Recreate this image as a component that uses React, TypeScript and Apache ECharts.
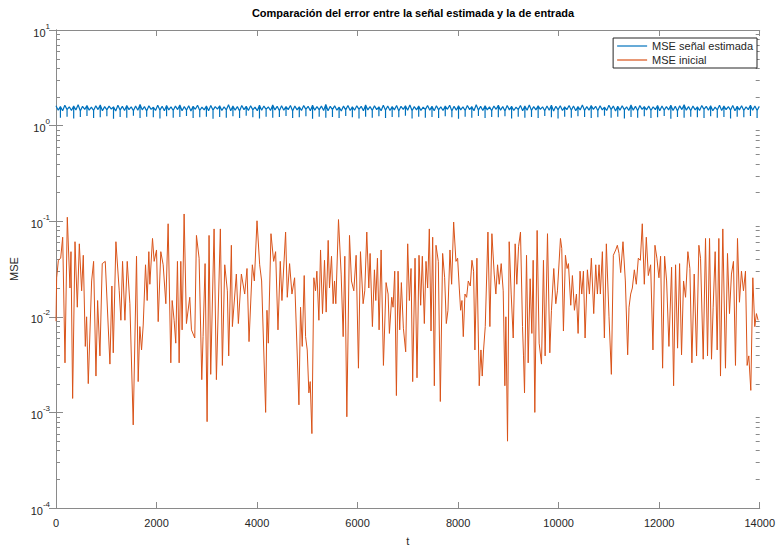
import React, { useEffect, useRef } from "react";
import * as echarts from "echarts";

const FONT = "'Liberation Sans', Arial, Helvetica, sans-serif";
const TITLE = "Comparación del error entre la señal estimada y la de entrada";
const SERIES_NAMES = ["MSE señal estimada", "MSE inicial"];
const X_MIN = 0;
const X_MAX = 14000;
const X_STEP = 2000;
const Y_MIN = 1e-4;
const Y_MAX = 10;

// estimated-signal MSE: base samples every BLUE_DT in t, with a short downward dip every SPIKE_EVERY samples
const BLUE_DT = 44;
const SPIKE_EVERY = 3;
const mseEstimadaBase: number[] = [
  1.61,1.45,1.58,1.43,1.63,1.47,1.57,1.44,1.60,1.46,1.65,1.42,1.59,1.48,1.62,1.45,
  1.56,1.44,1.61,1.47,1.64,1.43,1.58,1.46,1.60,1.49,1.57,1.42,1.63,1.45,1.59,1.44,
  1.62,1.47,1.57,1.43,1.60,1.45,1.66,1.46,1.58,1.42,1.61,1.48,1.56,1.44,1.63,1.45,
  1.59,1.43,1.62,1.46,1.57,1.44,1.60,1.47,1.64,1.43,1.58,1.45,1.61,1.42,1.59,1.48,
  1.63,1.44,1.56,1.46,1.60,1.43,1.62,1.45,1.58,1.49,1.61,1.44,1.57,1.46,1.65,1.43,
  1.60,1.45,1.58,1.42,1.62,1.47,1.59,1.44,1.61,1.46,1.56,1.43,1.63,1.45,1.60,1.48,
  1.57,1.44,1.64,1.46,1.59,1.43,1.61,1.45,1.58,1.47,1.62,1.42,1.60,1.46,1.57,1.44,
  1.62,1.48,1.59,1.43,1.63,1.45,1.58,1.46,1.60,1.44,1.66,1.43,1.59,1.47,1.61,1.45,
  1.56,1.42,1.60,1.46,1.62,1.44,1.57,1.45,1.61,1.48,1.59,1.43,1.64,1.46,1.58,1.44,
  1.61,1.47,1.57,1.43,1.63,1.45,1.60,1.44,1.58,1.46,1.62,1.42,1.59,1.48,1.61,1.45,
  1.64,1.43,1.58,1.46,1.60,1.44,1.56,1.47,1.62,1.45,1.59,1.43,1.61,1.46,1.57,1.44,
  1.60,1.48,1.63,1.42,1.59,1.45,1.61,1.46,1.57,1.44,1.62,1.47,1.58,1.43,1.65,1.45,
  1.59,1.44,1.61,1.46,1.57,1.43,1.60,1.48,1.63,1.45,1.58,1.42,1.62,1.46,1.59,1.44,
  1.56,1.47,1.62,1.43,1.60,1.45,1.64,1.44,1.58,1.46,1.61,1.48,1.57,1.43,1.60,1.45,
  1.63,1.42,1.59,1.46,1.61,1.44,1.57,1.47,1.62,1.45,1.60,1.43,1.58,1.46,1.64,1.44,
  1.58,1.45,1.62,1.48,1.59,1.43,1.61,1.46,1.56,1.44,1.63,1.47,1.60,1.42,1.59,1.45,
  1.61,1.46,1.57,1.44,1.64,1.45,1.59,1.43,1.62,1.48,1.58,1.46,1.60,1.44,1.57,1.47,
  1.62,1.43,1.60,1.45,1.58,1.46,1.63,1.44,1.59,1.42,1.61,1.47,1.65,1.45,1.58,1.43,
  1.60,1.46,1.57,1.44,1.62,1.48,1.59,1.45,1.61,1.43,1.56,1.46,1.63,1.44,1.60,1.47,
  1.58,1.45,1.62,1.43,1.59,1.46,1.61,1.44,1.57,1.47,1.63,1.45,1.60,1.44,1.59,
];
const mseEstimadaDips: number[] = [
  1.21,1.24,1.19,1.23,1.26,1.20,1.22,1.25,1.18,1.23,1.21,1.27,
  1.20,1.24,1.22,1.19,1.25,1.21,1.23,1.26,1.20,1.22,1.24,1.18,
  1.23,1.21,1.25,1.20,1.27,1.22,1.19,1.24,1.21,1.23,1.26,1.20,
  1.22,1.25,1.18,1.24,1.21,1.23,1.20,1.26,1.22,1.19,1.24,1.21,
  1.25,1.20,1.23,1.22,1.27,1.19,1.24,1.21,1.23,1.20,1.25,1.22,
  1.18,1.24,1.21,1.26,1.20,1.23,1.22,1.25,1.19,1.24,1.21,1.23,
  1.20,1.26,1.22,1.19,1.24,1.21,1.25,1.23,1.20,1.22,1.27,1.21,
  1.24,1.19,1.23,1.21,1.25,1.20,1.22,1.26,1.18,1.23,1.21,1.24,
  1.22,1.20,1.25,1.21,1.23,1.19,1.24,1.22,1.26,1.20,
];

// [t, MSE] of the initial-error trace
const mseInicial: [number, number][] = [
  [0,0.009],[13,0.0256],[47,0.039],[93,0.041],[133,0.068],[179,0.0033],[225,0.110],[278,0.020],
  [298,0.048],[331,0.0014],[378,0.061],[424,0.0126],[464,0.058],[510,0.0187],[543,0.044],[583,0.0049],
  [609,0.010],[642,0.002],[709,0.0237],[748,0.038],[795,0.0024],[828,0.0148],[874,0.0039],[920,0.036],
  [980,0.038],[1073,0.0032],[1112,0.021],[1139,0.0042],[1192,0.061],[1258,0.0187],[1291,0.0092],[1324,0.038],
  [1371,0.0092],[1417,0.038],[1470,0.0137],[1536,0.00074],[1602,0.043],[1635,0.0021],[1668,0.0079],[1702,0.0045],
  [1735,0.0082],[1781,0.035],[1814,0.0148],[1847,0.048],[1867,0.0219],[1920,0.066],[1953,0.038],[2000,0.050],
  [2033,0.0089],[2085,0.048],[2132,0.035],[2185,0.0137],[2231,0.094],[2284,0.0033],[2311,0.0148],[2350,0.0092],
  [2383,0.0053],[2416,0.038],[2450,0.0033],[2483,0.038],[2509,0.0073],[2549,0.119],[2595,0.0085],[2661,0.016],
  [2695,0.0073],[2761,0.006],[2794,0.071],[2847,0.041],[2900,0.0022],[2926,0.0062],[2966,0.036],[3006,0.0008],
  [3045,0.071],[3078,0.0025],[3145,0.083],[3191,0.0022],[3270,0.083],[3310,0.0031],[3357,0.035],[3409,0.0187],
  [3436,0.0039],[3489,0.056],[3509,0.0079],[3588,0.028],[3628,0.0085],[3688,0.028],[3754,0.0173],[3800,0.032],
  [3840,0.0055],[3906,0.035],[3946,0.0237],[3999,0.101],[4052,0.035],[4091,0.0237],[4171,0.001],[4197,0.0117],
  [4224,0.0053],[4277,0.074],[4330,0.038],[4369,0.048],[4416,0.0073],[4462,0.038],[4495,0.0148],[4568,0.077],
  [4601,0.016],[4647,0.036],[4694,0.0173],[4747,0.0256],[4833,0.0012],
  [4865,0.0126],[4899,0.0049],[4938,0.027],[4965,0.0062],[4998,0.0045],[5031,0.0016],[5057,0.0021],[5091,0.0006],
  [5130,0.0256],[5163,0.0187],[5190,0.030],[5230,0.0092],[5263,0.050],[5302,0.0108],[5342,0.039],[5375,0.0112],
  [5415,0.063],[5441,0.020],[5481,0.043],[5514,0.0137],[5541,0.0237],[5567,0.0137],[5620,0.104],[5673,0.028],
  [5713,0.0062],[5746,0.043],[5786,0.0009],[5839,0.071],[5878,0.0237],[5925,0.0187],[5971,0.044],[6017,0.0029],
  [6057,0.048],[6110,0.0137],[6143,0.0187],[6183,0.077],[6223,0.020],[6249,0.046],[6295,0.0079],[6335,0.031],
  [6362,0.0148],[6395,0.041],[6428,0.0073],[6468,0.050],[6514,0.0031],[6567,0.0228],[6607,0.0173],[6633,0.0067],
  [6679,0.016],[6706,0.0126],[6739,0.030],[6772,0.0015],[6805,0.030],[6838,0.0073],[6871,0.0228],[6911,0.0076],
  [6957,0.0043],[6997,0.058],[7030,0.0148],[7063,0.032],[7096,0.0021],[7143,0.041],[7182,0.0023],[7222,0.044],
  [7255,0.0132],[7288,0.043],[7328,0.0085],[7361,0.038],[7394,0.020],[7427,0.083],[7461,0.0071],[7494,0.068],
  [7527,0.0019],[7560,0.056],[7606,0.038],[7646,0.0013],[7692,0.046],[7732,0.0256],[7765,0.0085],[7798,0.0117],
  [7838,0.050],[7871,0.0219],[7911,0.098],[7957,0.038],[7990,0.041],[8023,0.020],[8050,0.0117],[8076,0.0148],
  [8103,0.0062],[8136,0.0173],[8169,0.016],[8202,0.0237],[8242,0.021],[8275,0.039],[8308,0.030],[8334,0.0045],
  [8374,0.041],[8420,0.0019],[8454,0.0045],[8480,0.0024],[8506,0.0045],[8540,0.0079],[8593,0.077],[8632,0.0079],
  [8672,0.074],[8718,0.028],[8751,0.0173],[8785,0.035],[8818,0.0219],[8857,0.036],[8897,0.0187],[8930,0.0019],
  [8950,0.010],[8983,0.0005],[9016,0.061],[9056,0.0173],[9096,0.006],[9135,0.058],[9168,0.0219],[9202,0.054],
  [9241,0.077],
  [9281,0.0079],[9301,0.0039],[9321,0.0016],[9361,0.044],[9394,0.0033],[9433,0.025],[9467,0.0067],[9493,0.039],
  [9526,0.001],[9572,0.080],[9612,0.0053],[9659,0.0032],[9698,0.039],[9731,0.0039],[9778,0.074],[9824,0.0042],
  [9857,0.0117],[9903,0.032],[9943,0.0137],[9976,0.0187],[10036,0.066],[10062,0.052],[10095,0.0071],[10135,0.044],
  [10168,0.032],[10195,0.036],[10241,0.0132],[10274,0.027],[10314,0.0117],[10354,0.0173],[10387,0.0067],[10426,0.030],
  [10460,0.0173],[10493,0.030],[10526,0.006],[10572,0.031],[10612,0.0173],[10651,0.041],[10698,0.0108],[10738,0.035],
  [10771,0.0173],[10804,0.035],[10830,0.0173],[10870,0.048],[10910,0.006],[10949,0.058],[11002,0.010],[11049,0.0025],
  [11088,0.044],[11135,0.050],[11168,0.056],[11201,0.046],[11234,0.029],[11280,0.061],[11327,0.0237],[11373,0.004],
  [11400,0.0126],[11433,0.0173],[11466,0.020],[11506,0.031],[11545,0.0219],[11585,0.041],[11625,0.039],[11664,0.094],
  [11704,0.0219],[11744,0.068],[11784,0.027],[11830,0.035],[11876,0.0045],[11916,0.056],[11955,0.041],[11995,0.0256],
  [12028,0.043],[12068,0.0029],[12108,0.043],[12148,0.0237],[12194,0.0049],[12247,0.033],[12287,0.0019],[12326,0.035],
  [12366,0.0047],[12406,0.036],[12445,0.004],[12485,0.0237],[12525,0.016],[12571,0.048],[12611,0.032],[12651,0.0033],
  [12697,0.028],[12744,0.0039],[12790,0.056],[12823,0.041],[12876,0.0036],[12922,0.066],[12962,0.0039],[13002,0.066],
  [13041,0.0036],[13074,0.0126],[13114,0.048],[13154,0.0045],[13187,0.066],[13220,0.0024],[13266,0.083],[13319,0.0029],
  [13359,0.046],[13399,0.0108],[13438,0.028],[13478,0.038],[13518,0.0031],[13558,0.066],[13597,0.0142],[13637,0.030],
  [13677,0.0187],[13717,0.030],[13750,0.0031],[13783,0.0039],[13823,0.0017],[13863,0.0256],[13902,0.0079],[13935,0.0108],
  [13968,0.0092],
];

// log-axis minor tick values (2..9 x 10^d)
const minorTickValues: number[] = [];
for (let d = -4; d <= 0; d++) {
  for (let k = 2; k <= 9; k++) minorTickValues.push(k * Math.pow(10, d));
}

const AXIS_COLOR = "#8a8a8a";
const TEXT_COLOR = "#262626";
const BLUE = "#0072BD";
const ORANGE = "#D95319";

function buildEstimada(): [number, number][] {
  const out: [number, number][] = [];
  let k = 0;
  mseEstimadaBase.forEach((v, i) => {
    const t = i * BLUE_DT;
    out.push([t, v]);
    if (i % SPIKE_EVERY === SPIKE_EVERY - 1 && k < mseEstimadaDips.length) {
      out.push([t, mseEstimadaDips[k++]]);
      out.push([t, v]);
    }
  });
  return out;
}

export default function App() {
  const ref = useRef<HTMLDivElement>(null);
  useEffect(() => {
    document.body.style.margin = "0";
    if (!ref.current) return;
    const chart = echarts.init(ref.current, null, { renderer: "svg" });

    const yLabel = (v: number) => {
      const e = Math.round(Math.log10(v));
      return "{b|10}{s|" + e + "}";
    };
    const rich = {
      b: { fontSize: 11, color: TEXT_COLOR, fontFamily: FONT, lineHeight: 16, verticalAlign: "bottom" },
      s: { fontSize: 8, color: TEXT_COLOR, fontFamily: FONT, lineHeight: 10, verticalAlign: "top" },
    };

    const xCommon = {
      type: "value",
      min: X_MIN,
      max: X_MAX,
      interval: X_STEP,
      splitLine: { show: false },
      axisLine: { show: true, lineStyle: { color: AXIS_COLOR, width: 1 } },
      axisTick: { show: true, inside: true, length: 6, lineStyle: { color: AXIS_COLOR } },
    };
    const yCommon = {
      type: "log",
      logBase: 10,
      min: Y_MIN,
      max: Y_MAX,
      interval: 1,
      splitLine: { show: false },
      axisLine: { show: true, lineStyle: { color: AXIS_COLOR, width: 1 } },
      axisTick: { show: true, inside: true, length: 7, lineStyle: { color: AXIS_COLOR } },
    };

    chart.setOption({
      animation: false,
      textStyle: { fontFamily: FONT },
      title: {
        text: TITLE,
        left: 408,
        top: 2,
        textAlign: "center",
        textStyle: { fontSize: 11, fontWeight: "bold", color: "#000", fontFamily: FONT },
      },
      legend: {
        data: SERIES_NAMES,
        orient: "vertical",
        right: 21,
        top: 38,
        itemWidth: 30,
        itemHeight: 1.2,
        icon: "rect",
        itemGap: 2,
        padding: [2, 4, 2, 4],
        borderColor: "#262626",
        borderWidth: 1,
        borderRadius: 0,
        backgroundColor: "#fff",
        textStyle: { fontSize: 11, color: TEXT_COLOR, fontFamily: FONT, lineHeight: 12 },
      },
      grid: { left: 56, right: 18, top: 30, bottom: 32, containLabel: false },
      xAxis: [
        {
          ...xCommon,
          position: "bottom",
          axisLabel: { show: true, fontSize: 11, color: TEXT_COLOR, margin: 9, fontFamily: FONT, formatter: (v: number) => String(v) },
          name: "t",
          nameLocation: "middle",
          nameGap: 27,
          nameTextStyle: { fontSize: 11, color: TEXT_COLOR, fontFamily: FONT },
        },
        { ...xCommon, position: "top", axisLabel: { show: false } },
      ],
      yAxis: [
        {
          ...yCommon,
          position: "left",
          axisLabel: { show: true, formatter: yLabel, rich, margin: 6 },
          name: "MSE",
          nameLocation: "middle",
          nameGap: 27,
          nameTextStyle: { fontSize: 11, color: TEXT_COLOR, fontFamily: FONT },
        },
        { ...yCommon, position: "right", axisLabel: { show: false } },
      ],
      series: [
        {
          name: SERIES_NAMES[0],
          type: "line",
          data: buildEstimada(),
          symbol: "none",
          lineStyle: { color: BLUE, width: 1.2 },
          itemStyle: { color: BLUE },
          xAxisIndex: 0,
          yAxisIndex: 0,
          z: 3,
        },
        {
          name: SERIES_NAMES[1],
          type: "line",
          data: mseInicial,
          symbol: "none",
          lineStyle: { color: ORANGE, width: 1 },
          itemStyle: { color: ORANGE },
          xAxisIndex: 0,
          yAxisIndex: 0,
          z: 2,
        },
        {
          type: "custom",
          name: "minorTicks",
          xAxisIndex: 0,
          yAxisIndex: 0,
          silent: true,
          clip: false,
          data: minorTickValues.map((v) => [X_MIN, v]),
          renderItem: (params: any, api: any) => {
            const v = api.value(1);
            const p0 = api.coord([X_MIN, v]);
            const p1 = api.coord([X_MAX, v]);
            const y = Math.round(p0[1]) + 0.5;
            return {
              type: "group",
              children: [
                { type: "line", shape: { x1: p0[0], y1: y, x2: p0[0] + 4, y2: y }, style: { stroke: AXIS_COLOR, lineWidth: 1 } },
                { type: "line", shape: { x1: p1[0] - 4, y1: y, x2: p1[0], y2: y }, style: { stroke: AXIS_COLOR, lineWidth: 1 } },
              ],
            };
          },
          z: 1,
        },
      ],
    });
    return () => chart.dispose();
  }, []);
  return <div ref={ref} style={{ width: 778, height: 551 }} />;
}
